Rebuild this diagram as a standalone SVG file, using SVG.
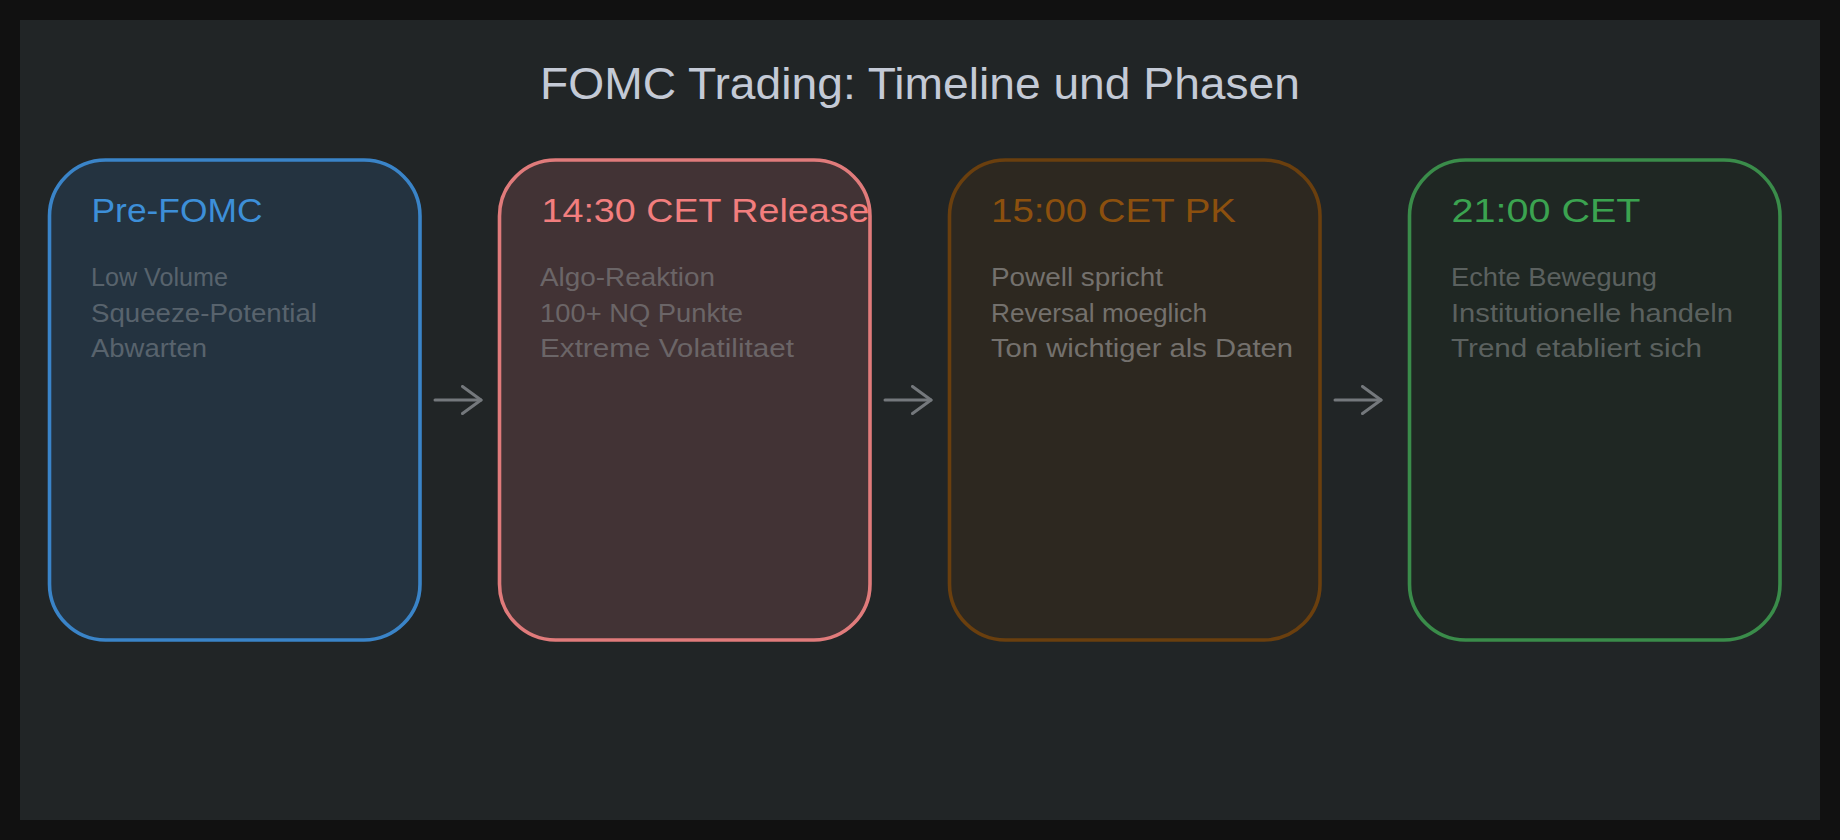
<svg xmlns="http://www.w3.org/2000/svg" width="1840" height="840" viewBox="0 0 1840 840">
  <defs>
    <marker id="arrow" viewBox="0 0 22 30" refX="20" refY="15" markerWidth="22" markerHeight="30" markerUnits="userSpaceOnUse" orient="auto">
      <path d="M1.5,1.5 L20,15 L1.5,28.5" fill="none" stroke="#74787c" stroke-width="3" stroke-linecap="round" stroke-linejoin="round"/>
    </marker>
  </defs>
  <style>
    text { font-family: "Liberation Sans", Arial, sans-serif; }
    .title { font-size: 44px; fill: #c4cad6; }
    .head { font-size: 34px; }
    .body { font-size: 25px; }
    .box { stroke-width: 3.6; }
    .conn { stroke: #74787c; stroke-width: 3; fill: none; stroke-linecap: round; }
  </style>
  <rect x="0" y="0" width="1840" height="840" fill="#111111"/>
  <rect x="20" y="20" width="1800" height="800" fill="#212526"/>

  <g id="title">
    <text class="title" x="540" y="99" textLength="760" lengthAdjust="spacingAndGlyphs">FOMC Trading: Timeline und Phasen</text>
  </g>

  <g id="connectors">
    <line class="conn" x1="435" y1="400" x2="481" y2="400" marker-end="url(#arrow)"/>
    <line class="conn" x1="885" y1="400" x2="931" y2="400" marker-end="url(#arrow)"/>
    <line class="conn" x1="1335" y1="400" x2="1381" y2="400" marker-end="url(#arrow)"/>
  </g>

  <g id="node-pre-fomc">
    <rect class="box" x="49.5" y="160" width="370.5" height="480" rx="56" ry="56" fill="#243340" stroke="#3a84c8"/>
    <text class="head" x="91.5" y="221.5" fill="#3d8fd8" textLength="171" lengthAdjust="spacingAndGlyphs">Pre-FOMC</text>
    <text class="body" x="91" y="286" fill="#58636d" textLength="137" lengthAdjust="spacingAndGlyphs">Low Volume</text>
    <text class="body" x="91" y="321.5" fill="#58636d" textLength="226" lengthAdjust="spacingAndGlyphs">Squeeze-Potential</text>
    <text class="body" x="91" y="357" fill="#58636d" textLength="116" lengthAdjust="spacingAndGlyphs">Abwarten</text>
  </g>

  <g id="node-release">
    <rect class="box" x="499.5" y="160" width="370.5" height="480" rx="56" ry="56" fill="#423335" stroke="#e07b7b"/>
    <text class="head" x="541.5" y="221.5" fill="#f27e7e" textLength="328" lengthAdjust="spacingAndGlyphs">14:30 CET Release</text>
    <text class="body" x="540" y="286" fill="#6b6567" textLength="175" lengthAdjust="spacingAndGlyphs">Algo-Reaktion</text>
    <text class="body" x="540" y="321.5" fill="#6b6567" textLength="203" lengthAdjust="spacingAndGlyphs">100+ NQ Punkte</text>
    <text class="body" x="540" y="357" fill="#6b6567" textLength="254" lengthAdjust="spacingAndGlyphs">Extreme Volatilitaet</text>
  </g>

  <g id="node-pk">
    <rect class="box" x="949.5" y="160" width="370.5" height="480" rx="56" ry="56" fill="#2d2820" stroke="#6a3f0e"/>
    <text class="head" x="991" y="221.5" fill="#8c500e" textLength="245" lengthAdjust="spacingAndGlyphs">15:00 CET PK</text>
    <text class="body" x="991" y="286" fill="#74716d" textLength="172" lengthAdjust="spacingAndGlyphs">Powell spricht</text>
    <text class="body" x="991" y="321.5" fill="#74716d" textLength="216" lengthAdjust="spacingAndGlyphs">Reversal moeglich</text>
    <text class="body" x="991" y="357" fill="#74716d" textLength="302" lengthAdjust="spacingAndGlyphs">Ton wichtiger als Daten</text>
  </g>

  <g id="node-close">
    <rect class="box" x="1409.5" y="160" width="370.5" height="480" rx="56" ry="56" fill="#1f2723" stroke="#3a8c4a"/>
    <text class="head" x="1451.5" y="221.5" fill="#3ba350" textLength="189" lengthAdjust="spacingAndGlyphs">21:00 CET</text>
    <text class="body" x="1451" y="286" fill="#5b615f" textLength="206" lengthAdjust="spacingAndGlyphs">Echte Bewegung</text>
    <text class="body" x="1451" y="321.5" fill="#5b615f" textLength="282" lengthAdjust="spacingAndGlyphs">Institutionelle handeln</text>
    <text class="body" x="1451" y="357" fill="#5b615f" textLength="251" lengthAdjust="spacingAndGlyphs">Trend etabliert sich</text>
  </g>
</svg>
